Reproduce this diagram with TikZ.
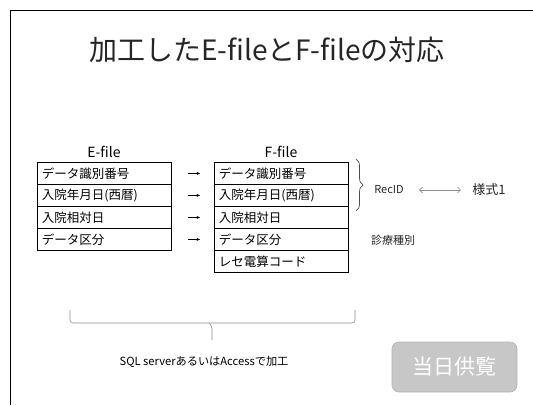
\documentclass[tikz,border=0pt]{standalone}
\usepackage{fontspec}
\setmainfont{Noto Sans CJK JP}
\usetikzlibrary{decorations.pathreplacing,arrows.meta}
\begin{document}
\begin{tikzpicture}[x=1pt,y=-1pt,
  rowbox/.style={draw, line width=0.9pt, anchor=north west, minimum height=22pt,
    text width=125pt, inner xsep=4.5pt, inner ysep=0pt, align=left,
    font=\fontsize{12.5}{14}\selectfont},
  hdr/.style={font=\fontsize{14}{16}\selectfont},
  side/.style={font=\fontsize{11}{13}\selectfont, text=black!85},
  maparrow/.style={-{Stealth[length=3.5pt,width=3pt]}, line width=0.6pt, shorten <=16pt, shorten >=14pt},
  graybrace/.style={draw=black!45, line width=0.6pt}
]
\useasboundingbox (0,0) rectangle (533,405);
% slide frame
\draw[line width=1.5pt] (10.5,405) -- (10.5,10.5) -- (533,10.5);
% title
\node[font=\fontsize{28}{32}\selectfont, text=black!85] (title) at (267,50) {加工したE-fileとF-fileの対応};
% headers
\node[hdr] (elabel) at (104,152) {E-file};
\node[hdr] (flabel) at (281,152) {F-file};
% E-file rows
\node[rowbox] (e1) at (37,162) {データ識別番号};
\node[rowbox] (e2) at (37,184) {入院年月日(西暦)};
\node[rowbox] (e3) at (37,206) {入院相対日};
\node[rowbox] (e4) at (37,228) {データ区分};
% F-file rows
\node[rowbox] (f1) at (214,162) {データ識別番号};
\node[rowbox] (f2) at (214,184) {入院年月日(西暦)};
\node[rowbox] (f3) at (214,206) {入院相対日};
\node[rowbox] (f4) at (214,228) {データ区分};
\node[rowbox] (f5) at (214,250) {レセ電算コード};
% mapping arrows
\draw[maparrow] (e1.east) -- (f1.west);
\draw[maparrow] (e2.east) -- (f2.west);
\draw[maparrow] (e3.east) -- (f3.west);
\draw[maparrow] (e4.east) -- (f4.west);
% right brace
\coordinate (rb1) at (356,159);
\coordinate (rb2) at (356,211);
\draw[black!70, line width=0.7pt, decorate, decoration={brace, amplitude=7pt}] (rb1) -- (rb2);
% side labels
\node[side] (recid) at (389,190) {RecID};
\node[side, font=\fontsize{13}{15}\selectfont] (yoshiki) at (489,190) {様式1};
\draw[black!45, line width=0.6pt, {Straight Barb[length=3pt]}-{Straight Barb[length=3pt]}, shorten <=12pt, shorten >=8pt] (recid) -- (yoshiki);
\node[side] (shinryo) at (393,240) {診療種別};
% bottom brace
\coordinate (bl) at (70,310);
\coordinate (br) at (355,310);
\coordinate (bt) at (212,340);
\draw[graybrace, rounded corners=3pt] (bl) -- (70,323) -- (355,323) -- (br);
\draw[graybrace, rounded corners=3pt] (209,323) -- (212,326) -- (bt);
\node[font=\fontsize{11.2}{13}\selectfont] (sql) at (204,362) {SQL serverあるいはAccessで加工};
% stamp
\node[fill=black!22, draw=black!30, line width=0.6pt, rounded corners=7pt, minimum width=125pt, minimum height=50pt,
  text=white, font=\fontsize{21}{24}\selectfont] (kyoran) at (454.5,367) {当日供覧};
\end{tikzpicture}
\end{document}
